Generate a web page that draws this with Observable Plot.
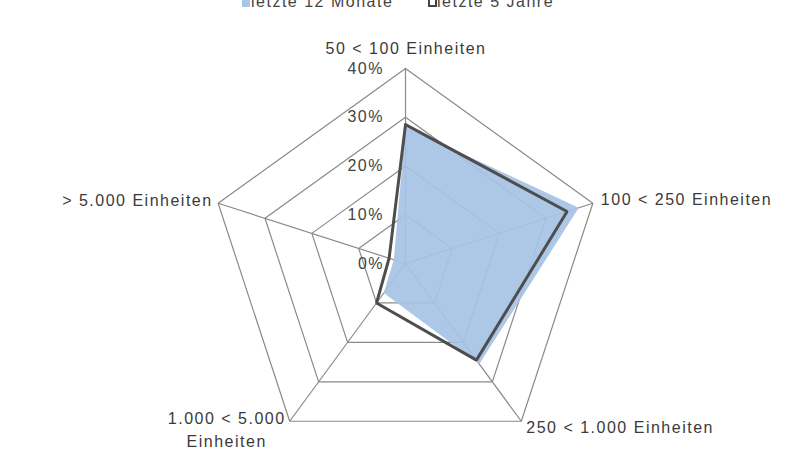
<!DOCTYPE html>
<html><head><meta charset="utf-8">
<script src="https://cdn.jsdelivr.net/npm/d3@7"></script>
<script src="https://cdn.jsdelivr.net/npm/@observablehq/plot@0.6"></script>
<style>
body{margin:0;background:#fff;width:800px;height:450px;overflow:hidden;font-family:"Liberation Sans",Arial,sans-serif;}
#legend{position:relative;height:8px;width:800px;}
.item{position:absolute;top:-6px;font-size:16px;line-height:16px;letter-spacing:1.5px;color:#444;white-space:nowrap;}
.sw{position:absolute;width:8px;height:9px;top:4px;left:-9px;}
#chart svg text{letter-spacing:1.5px;}
</style></head><body>
<div id="legend"></div>
<div id="chart"></div>
<script>
const categories = ["50 < 100 Einheiten", "100 < 250 Einheiten", "250 < 1.000 Einheiten", "1.000 < 5.000\nEinheiten", "> 5.000 Einheiten"];
const seriesNames = ["letzte 12 Monate", "letzte 5 Jahre"];
const monate12 = [28, 37, 25.5, 7.5, 2.5];
const jahre5 = [28.5, 34.5, 24.5, 10, 3.5];
const ticks = [0, 10, 20, 30, 40];
const tickLabels = ["0%", "10%", "20%", "30%", "40%"];

const n = categories.length;
const ang = i => (2 * Math.PI * i) / n;
const px = (r, i) => r * Math.sin(ang(i));
const py = (r, i) => r * Math.cos(ang(i));
const maxR = ticks[ticks.length - 1];

const closed = vals => [...vals, vals[0]].map((v, k) => ({v, i: k % n}));
const gridPts = ticks.filter(t => t > 0).flatMap(t => closed(categories.map(() => t)).map(d => ({...d, t})));

// legend
const legend = document.getElementById("legend");
const swStyles = [
  "background:#aac6e6;",
  "background:#fff;border:2px solid #444;box-sizing:border-box;width:9px;"
];
const lefts = [251, 437];
seriesNames.forEach((s, k) => {
  const it = document.createElement("div");
  it.className = "item";
  it.style.left = lefts[k] + "px";
  it.textContent = s;
  const sw = document.createElement("span");
  sw.className = "sw";
  sw.style.cssText = swStyles[k];
  it.appendChild(sw);
  legend.appendChild(it);
});

const lab = (idx, opts) => Plot.text(categories, {
  filter: (d, i) => i === idx,
  x: (d, i) => px(maxR, i),
  y: (d, i) => py(maxR, i),
  text: d => d,
  fill: "#3a3a3a",
  ...opts
});

const chart = Plot.plot({
  width: 800,
  height: 442,
  margin: 0,
  x: {domain: [-40, 40], range: [208, 602], axis: null},
  y: {domain: [-40, 40], range: [450, 60], axis: null},
  style: {fontFamily: "'Liberation Sans', Arial, sans-serif", fontSize: "16px", background: "white", overflow: "visible"},
  marks: [
    Plot.line(gridPts, {x: d => px(d.t, d.i), y: d => py(d.t, d.i), z: "t", stroke: "#8a8a8a", strokeWidth: 1.2, curve: "linear"}),
    Plot.link(categories, {x1: () => 0, y1: () => 0, x2: (d, i) => px(maxR, i), y2: (d, i) => py(maxR, i), stroke: "#8a8a8a", strokeWidth: 1.2}),
    Plot.line(closed(monate12), {x: d => px(d.v, d.i), y: d => py(d.v, d.i), fill: "#a6c3e4", fillOpacity: 0.92, stroke: "none"}),
    Plot.line(closed(jahre5), {x: d => px(d.v, d.i), y: d => py(d.v, d.i), stroke: "#4e4e4e", strokeWidth: 3, strokeLinejoin: "miter"}),
    Plot.text(ticks, {x: () => 0, y: d => d, text: (d, i) => tickLabels[i], textAnchor: "end", dx: -21.5, fill: "#444"}),
    lab(0, {textAnchor: "middle", dx: 0.5, dy: -20}),
    lab(1, {textAnchor: "start", dx: 8, dy: -3.5}),
    lab(2, {textAnchor: "start", dx: 5, dy: 6.5}),
    lab(3, {textAnchor: "middle", dx: -63, dy: 7, lineHeight: 1.44}),
    lab(4, {textAnchor: "end", dx: -5.5, dy: -2.5})
  ]
});
document.getElementById("chart").appendChild(chart);
</script>
</body></html>
